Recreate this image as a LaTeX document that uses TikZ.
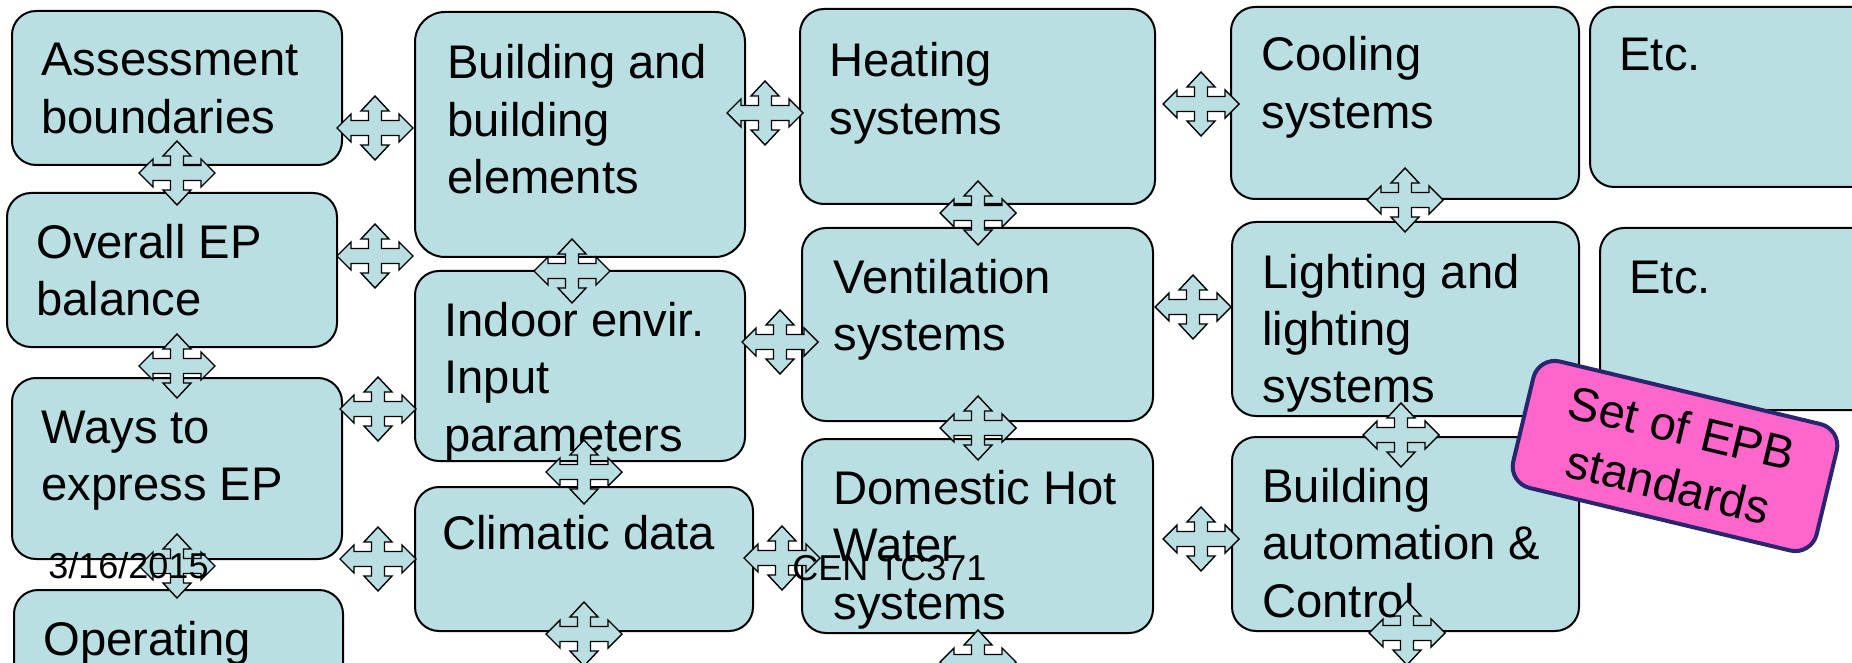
\documentclass[tikz,border=0pt]{standalone}
\usepackage{fontspec}
\setmainfont{Liberation Sans}
\usepackage{tikz}
\usetikzlibrary{fit}
\definecolor{panelcolor}{RGB}{186, 223, 227}
\definecolor{badgecolor}{RGB}{255, 102, 204}
\definecolor{badgeborder}{RGB}{40, 38, 110}
\tikzstyle{panel} = [rectangle, rounded corners=12pt, draw=black, line width=1pt,
                     fill=panelcolor, inner sep=0pt]
\tikzstyle{paneltext} = [anchor=base west, inner sep=0pt,
                         font=\fontsize{23.6}{28.75}\selectfont]
\tikzstyle{footer} = [anchor=base west, inner sep=0pt, font=\fontsize{18}{21}\selectfont]
\tikzstyle{badge} = [rectangle, rounded corners=11pt, draw=badgeborder, line width=2pt,
                     fill=badgecolor, minimum width=156pt, minimum height=65pt,
                     align=center, font=\fontsize{23.6}{29}\selectfont]
\tikzstyle{quad} = [draw=black, line width=0.7pt, fill=panelcolor]
% lines hanging from the baseline of the first one
\newcommand{\panellines}[1]{\begin{tabular}[t]{@{}l@{}}#1\end{tabular}}
% four-headed arrow between neighbouring panels
\tikzset{quadarrow/.pic={
    \draw[quad] (-38,0) -- (-24,-14) -- (-24,-7.5) -- (-6.5,-7.5) -- (-6.5,-17) -- (-14,-17)
        -- (0,-32) -- (14,-17) -- (6.5,-17) -- (6.5,-7.5) -- (24,-7.5) -- (24,-14)
        -- (38,0) -- (24,14) -- (24,7.5) -- (6.5,7.5) -- (6.5,17) -- (14,17)
        -- (0,32) -- (-14,17) -- (-6.5,17) -- (-6.5,7.5) -- (-24,7.5) -- (-24,14) -- cycle;
}}

\begin{document}
\begin{tikzpicture}[x=0.5pt, y=-0.5pt]
    \useasboundingbox (0,0) rectangle (1852,663);
    \clip (0,0) rectangle (1852,663);

    % general column
    \node[panel, fit={(12,11) (342,165)}] (assess) {};
    \node[paneltext] (assess-t) at ([shift={(30,66)}]assess.north west) {\panellines{Assessment\\boundaries}};
    \node[panel, fit={(7,193) (337,347)}] (overall) {};
    \node[paneltext] (overall-t) at ([shift={(30,66)}]overall.north west) {\panellines{Overall EP\\balance}};
    \node[panel, fit={(12,378) (342,559)}] (ways) {};
    \node[paneltext] (ways-t) at ([shift={(30,66)}]ways.north west) {\panellines{Ways to\\express EP}};
    \node[panel, fit={(14,590) (343,760)}] (operating) {};
    \node[paneltext] (operating-t) at ([shift={(30,66)}]operating.north west) {Operating};

    % building column
    \node[panel, rounded corners=15pt, fit={(415,12) (745,257)}] (build) {};
    \node[paneltext] (build-t) at ([shift={(33,68)}]build.north west) {\panellines{Building and\\building\\elements}};
    \node[panel, fit={(415,271) (745,461)}] (indoor) {};
    \node[paneltext] (indoor-t) at ([shift={(30,66)}]indoor.north west) {\panellines{Indoor envir.\\Input\\parameters}};
    \node[panel, fit={(415,487) (753,631)}] (climate) {};
    \node[paneltext] (climate-t) at ([shift={(28,63)}]climate.north west) {Climatic data};

    % systems, first column
    \node[panel, fit={(800,9) (1155,204)}] (heating) {};
    \node[paneltext] (heating-t) at ([shift={(30,69)}]heating.north west) {\panellines{Heating\\systems}};
    \node[panel, fit={(802,228) (1153,421)}] (vent) {};
    \node[paneltext] (vent-t) at ([shift={(32,66)}]vent.north west) {\panellines{Ventilation\\systems}};
    \node[panel, fit={(802,439) (1153,633)}] (dhw) {};
    \node[paneltext] (dhw-t) at ([shift={(32,66)}]dhw.north west) {\panellines{Domestic Hot\\Water\\systems}};

    % systems, second column
    \node[panel, fit={(1231,7) (1579,199)}] (cooling) {};
    \node[paneltext] (cooling-t) at ([shift={(31,65)}]cooling.north west) {\panellines{Cooling\\systems}};
    \node[panel, fit={(1232,222) (1579,416)}] (lighting) {};
    \node[paneltext] (lighting-t) at ([shift={(31,67)}]lighting.north west) {\panellines{Lighting and\\lighting\\systems}};
    \node[panel, fit={(1232,437) (1579,631)}] (bac) {};
    \node[paneltext] (bac-t) at ([shift={(31,66)}]bac.north west) {\panellines{Building\\automation \&\\Control}};

    % further systems
    \node[panel, fit={(1590,7) (1900,187)}] (etc1) {};
    \node[paneltext] (etc1-t) at ([shift={(30,65)}]etc1.north west) {Etc.};
    \node[panel, fit={(1600,228) (1900,410)}] (etc2) {};
    \node[paneltext] (etc2-t) at ([shift={(30,66)}]etc2.north west) {Etc.};

    % links
    \foreach \x/\y in {375/128, 177/173, 375/256, 177/366, 378/409, 177/566, 378/559,
                       572/271, 765/113, 780/342, 584/472, 584/634, 782/558,
                       978/213, 978/428, 978/662, 1201/104, 1193/307, 1201/539,
                       1405/200, 1401/435, 1407/633}
        \pic at (\x,\y) {quadarrow};

    % slide footer
    \node[footer] (date) at (48,578) {3/16/2015};
    \node[footer] (committee) at (792,580) {CEN TC371};

    \node[badge, rotate=-13.5] (epb) at (1675,456) {Set of EPB\\standards};
\end{tikzpicture}
\end{document}
